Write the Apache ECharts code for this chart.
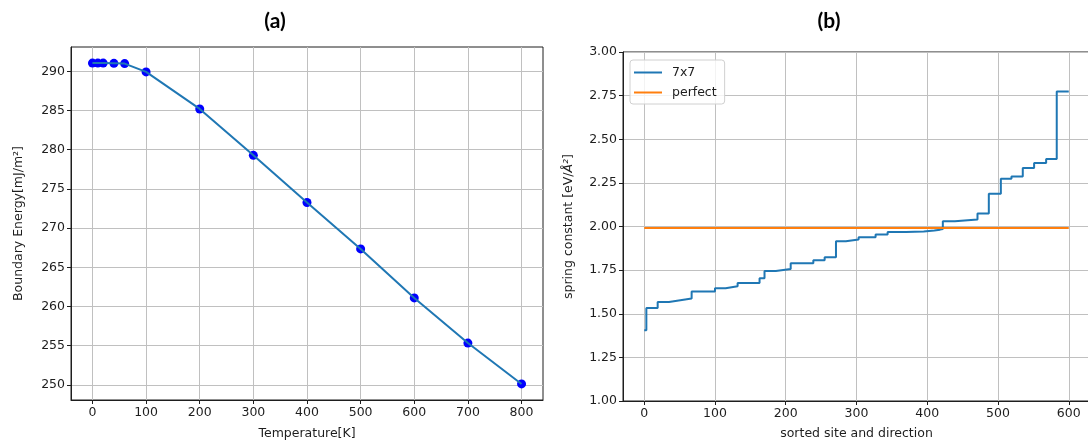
<!DOCTYPE html>
<html>
<head>
<meta charset="utf-8">
<script src="https://cdn.jsdelivr.net/npm/echarts@6/dist/echarts.min.js"></script>
<style>
  html, body { margin: 0; padding: 0; background: #fff; }
  #chart { width: 1088px; height: 443px; }
</style>
</head>
<body>
<div id="chart"></div>
<script>
// (a) boundary energy vs temperature
const temperatures = [0, 10, 20, 40, 60, 100, 200, 300, 400, 500, 600, 700, 800];
const boundaryEnergy = [291.05, 291.05, 291.05, 291.02, 290.98, 289.92, 285.2, 279.28, 273.27, 267.35, 261.1, 255.34, 250.13];
const tempTicks = [0, 100, 200, 300, 400, 500, 600, 700, 800];
const energyTicks = [250, 255, 260, 265, 270, 275, 280, 285, 290];

// (b) sorted spring constants: each value holds from its index to the next one
const siteIndex = [0, 3, 19, 35, 51, 67, 100, 115, 132, 163, 170, 186, 207, 239, 255, 271, 285, 303, 327, 344, 370, 395, 410, 418, 422, 439, 471, 487, 504, 519, 535, 551, 568, 583, 600];
const springK7x7 = [1.406, 1.533, 1.567, 1.577, 1.587, 1.627, 1.646, 1.657, 1.676, 1.703, 1.745, 1.756, 1.789, 1.806, 1.824, 1.916, 1.926, 1.939, 1.954, 1.968, 1.972, 1.977, 1.982, 1.986, 2.030, 2.040, 2.074, 2.187, 2.274, 2.287, 2.335, 2.364, 2.387, 2.773, 2.773];
const perfectIndex = [0, 600];
const springKPerfect = [1.992, 1.992];
const siteTicks = [0, 100, 200, 300, 400, 500, 600];

const zip = (xs, ys) => xs.map((x, i) => [x, ys[i]]);

const FONT = 'DejaVu Sans';
const INK = '#1e1e1e';
const GRIDLINE = '#c0c0c0';

function axisBase() {
  return {
    axisLine: { show: true, onZero: false, lineStyle: { color: INK, width: 1 } },
    axisTick: { show: true, inside: false, length: 4, lineStyle: { color: INK, width: 1 } },
    axisLabel: { color: INK, fontFamily: FONT, fontSize: 12.5, margin: 6 },
    splitLine: { show: true, lineStyle: { color: GRIDLINE, width: 1 } },
    nameLocation: 'middle',
    nameTextStyle: { color: INK, fontFamily: FONT, fontSize: 12.5 }
  };
}

const chart = echarts.init(document.getElementById('chart'), null, { renderer: 'canvas' });

const option = {
  animation: false,
  backgroundColor: '#ffffff',
  grid: [
    { left: 71, top: 47, width: 472, height: 353, show: true, borderColor: INK, borderWidth: 1, backgroundColor: 'transparent', outerBoundsMode: 'none', containLabel: false },
    { left: 623, top: 52, width: 467, height: 349, show: true, borderColor: INK, borderWidth: 1, backgroundColor: 'transparent', outerBoundsMode: 'none', containLabel: false }
  ],
  xAxis: [
    Object.assign(axisBase(), {
      type: 'value', gridIndex: 0, min: -40, max: 840,
      name: 'Temperature[K]', nameGap: 27
    }),
    Object.assign(axisBase(), {
      type: 'value', gridIndex: 1, min: -30, max: 630,
      name: 'sorted site and direction', nameGap: 26
    })
  ],
  yAxis: [
    Object.assign(axisBase(), {
      type: 'value', gridIndex: 0, min: 248.08, max: 293.1,
      name: 'Boundary Energy[mJ/m²]', nameGap: 46
    }),
    Object.assign(axisBase(), {
      type: 'value', gridIndex: 1, min: 1, max: 3, interval: 0.25,
      name: '{n|spring constant [eV/}{i|Å²}{n|]}', nameGap: 48
    })
  ],
  legend: {
    left: 630, top: 60,
    orient: 'vertical',
    data: ['7x7', 'perfect'],
    icon: 'rect',
    itemWidth: 28, itemHeight: 2, itemGap: 7,
    padding: [6, 8, 5, 4],
    backgroundColor: 'rgba(255,255,255,0.8)',
    borderColor: '#d0d0d0', borderWidth: 1, borderRadius: 3,
    textStyle: { color: INK, fontFamily: FONT, fontSize: 12.5, lineHeight: 13, padding: [0, 0, 0, 5] }
  },
  graphic: [
    { type: 'text', x: 275, y: 21, style: { text: '(a)', align: 'center', verticalAlign: 'middle', font: 'bold 21px Lato', fill: '#000' } },
    { type: 'text', x: 829, y: 21, style: { text: '(b)', align: 'center', verticalAlign: 'middle', font: 'bold 21px Lato', fill: '#000' } }
  ],
  series: [
    {
      name: 'energy-points', type: 'scatter', xAxisIndex: 0, yAxisIndex: 0,
      data: zip(temperatures, boundaryEnergy),
      symbol: 'circle', symbolSize: 9,
      itemStyle: { color: '#0000ff', opacity: 1 }, z: 2
    },
    {
      name: 'energy-line', type: 'line', xAxisIndex: 0, yAxisIndex: 0,
      data: zip(temperatures, boundaryEnergy),
      showSymbol: false, lineStyle: { color: '#1f77b4', width: 2 }, z: 3
    },
    {
      name: '7x7', type: 'line', xAxisIndex: 1, yAxisIndex: 1,
      data: zip(siteIndex, springK7x7), step: 'end',
      showSymbol: false, color: '#1f77b4', lineStyle: { color: '#1f77b4', width: 2 }, z: 3
    },
    {
      name: 'perfect', type: 'line', xAxisIndex: 1, yAxisIndex: 1,
      data: zip(perfectIndex, springKPerfect),
      showSymbol: false, color: '#ff7f0e', lineStyle: { color: '#ff7f0e', width: 2 }, z: 4
    }
  ]
};

// ticks at the listed values while the axis range keeps its margins
option.xAxis[0].axisTick.customValues = tempTicks;
option.xAxis[0].axisLabel.customValues = tempTicks;
option.yAxis[0].axisTick.customValues = energyTicks;
option.yAxis[0].axisLabel.customValues = energyTicks;
option.xAxis[1].axisTick.customValues = siteTicks;
option.xAxis[1].axisLabel.customValues = siteTicks;
option.yAxis[1].axisLabel.formatter = v => v.toFixed(2);
option.yAxis[1].nameTextStyle.rich = {
  n: { fontFamily: FONT, fontSize: 12.5, color: INK },
  i: { fontFamily: FONT, fontSize: 12.5, fontStyle: 'italic', color: INK }
};

chart.setOption(option);
</script>
</body>
</html>
